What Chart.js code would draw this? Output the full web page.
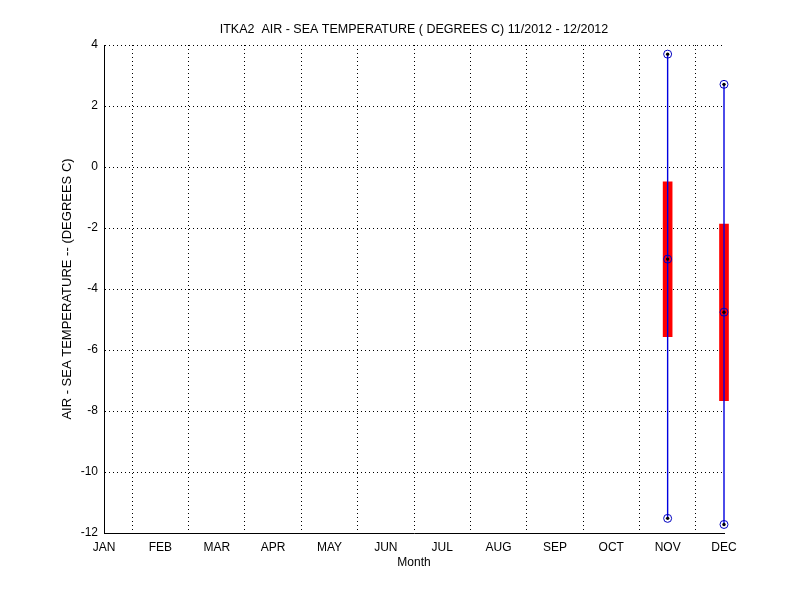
<!DOCTYPE html>
<html>
<head>
<meta charset="utf-8">
<script src="https://cdn.jsdelivr.net/npm/chart.js@4/dist/chart.umd.min.js"></script>
<style>
  html, body { margin: 0; padding: 0; background: #fff; }
  #wrap { width: 800px; height: 600px; }
</style>
</head>
<body>
<div id="wrap"><canvas id="boxChart"></canvas></div>
<script>
const months = ["JAN", "FEB", "MAR", "APR", "MAY", "JUN", "JUL", "AUG", "SEP", "OCT", "NOV", "DEC"];

// months that have data (1 = JAN)
const boxMonths = [11, 12];
const minVals = [-11.52, -11.72];
const q1Vals = [-5.56, -7.66];
const medVals = [-3.02, -4.76];
const q3Vals = [-0.49, -1.87];
const maxVals = [3.70, 2.71];

const yMin = -12, yMax = 4, yStep = 2;

const fam = "'Liberation Sans', Arial, sans-serif";
const tickFont = { family: fam, size: 12 };

const datasets = [];

// red boxes, q1 to q3
datasets.push({
    type: "bar",
    data: boxMonths.map((m, i) => ({ x: m, y: [q1Vals[i], q3Vals[i]] })),
    backgroundColor: "#ff0000",
    barThickness: 9,
    order: 3,
    clip: false
});

// blue whiskers, min to max
boxMonths.forEach((m, i) => {
    datasets.push({
        type: "line",
        data: [{ x: m, y: minVals[i] }, { x: m, y: maxVals[i] }],
        borderColor: "#0000e0",
        borderWidth: 1.4,
        pointRadius: 0,
        order: 2,
        clip: false
    });
});

// markers at min, median, max
const markerPts = [];
boxMonths.forEach((m, i) => {
    markerPts.push({ x: m, y: minVals[i] }, { x: m, y: medVals[i] }, { x: m, y: maxVals[i] });
});
datasets.push({
    type: "scatter",
    data: markerPts,
    pointStyle: "circle",
    pointRadius: 4,
    pointBorderColor: "#0000c0",
    pointBackgroundColor: "rgba(0,0,0,0)",
    pointBorderWidth: 1,
    order: 1,
    clip: false
});
datasets.push({
    type: "scatter",
    data: markerPts,
    pointStyle: "circle",
    pointRadius: 1.7,
    pointBorderWidth: 0,
    pointBackgroundColor: "#000000",
    order: 0,
    clip: false
});

const ctx = document.getElementById("boxChart").getContext("2d");

new Chart(ctx, {
    type: "bar",
    data: { datasets: datasets },
    options: {
        responsive: true,
        maintainAspectRatio: false,
        animation: false,
        layout: { padding: { left: 0, right: 76, top: 0, bottom: 0 } },
        plugins: {
            legend: { display: false },
            tooltip: { enabled: false },
            title: {
                display: true,
                fullSize: false,
                text: "ITKA2  AIR - SEA TEMPERATURE ( DEGREES C) 11/2012 - 12/2012",
                color: "#000",
                font: { family: fam, size: 12.5, weight: "normal", lineHeight: 1.2 },
                padding: { top: 22.5, bottom: 7.5 }
            }
        },
        scales: {
            x: {
                type: "linear",
                min: 1,
                max: 12,
                offset: false,
                afterFit: s => { s.height = 67; },
                border: { display: true, color: "#000", width: 1, dash: [1, 3] },
                grid: {
                    color: "#000",
                    lineWidth: 1,
                    drawTicks: false
                },
                ticks: {
                    stepSize: 1,
                    padding: 7,
                    color: "#000",
                    font: tickFont,
                    maxRotation: 0,
                    autoSkip: false,
                    callback: v => months[v - 1]
                },
                title: {
                    display: true,
                    text: "Month",
                    color: "#000",
                    font: tickFont,
                    padding: { top: 0, bottom: 30 }
                }
            },
            y: {
                type: "linear",
                min: yMin,
                max: yMax,
                afterFit: s => { s.width = 104; },
                border: { display: true, color: "#000", width: 1, dash: [1, 3] },
                grid: {
                    color: "#000",
                    lineWidth: 1,
                    drawTicks: false
                },
                ticks: {
                    stepSize: yStep,
                    padding: 6,
                    color: "#000",
                    font: tickFont
                },
                title: {
                    display: true,
                    text: "AIR - SEA TEMPERATURE -- (DEGREES C)",
                    color: "#000",
                    font: { family: fam, size: 13 },
                    padding: { top: 60, bottom: 0 }
                }
            }
        }
    }
});
</script>
</body>
</html>
